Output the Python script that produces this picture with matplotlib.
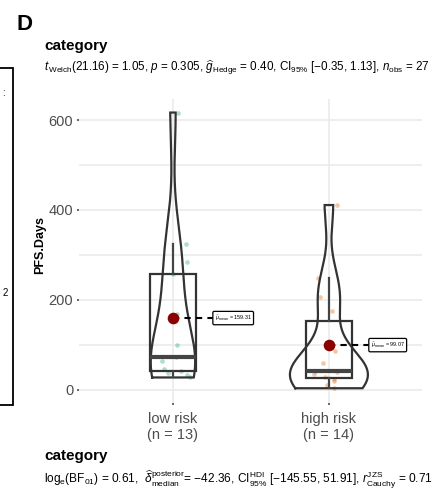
import numpy as np
import matplotlib
matplotlib.use("Agg")
import matplotlib.pyplot as plt
from matplotlib.patches import Rectangle

plt.rcParams['font.family'] = ['Liberation Sans', 'DejaVu Sans']
plt.rcParams['mathtext.fontset'] = 'custom'
plt.rcParams['mathtext.rm'] = 'Liberation Sans'
plt.rcParams['mathtext.it'] = 'Liberation Sans:italic'
plt.rcParams['mathtext.bf'] = 'Liberation Sans:bold'

# ---- data ----
categories = ["low risk", "high risk"]
low_risk = [27, 32, 36, 42, 45, 64, 72, 100, 169, 257, 285, 325, 617]
high_risk = [3, 10, 20, 24, 27, 35, 40, 42, 60, 85, 175, 206, 249, 411]
low_jitter = [0.11, 0.09, -0.03, 0.05, -0.06, -0.07, 0.02, 0.024, 0.026, 0.0, 0.088, 0.083, 0.03]
high_jitter = [0.03, -0.015, 0.03, 0.03, -0.025, -0.095, 0.05, -0.09, -0.04, 0.04, 0.02, -0.06, -0.07, 0.05]
y_ticks = [0, 200, 400, 600]
point_colors = ["#1B9E77", "#D95F02"]
title = "category"
subtitle = (r"$t_{\,\mathrm{Welch}}$(21.16) = 1.05, $p$ = 0.305, "
            r"$\widehat{g}_{\mathrm{Hedge}}$ = 0.40, CI$_{95\%}$ [−0.35, 1.13], "
            r"$n_{\mathrm{obs}}$ = 27")
caption = (r"log$_{\mathrm{e}}$(BF$_{01}$) = 0.61,  "
           r"$\widehat{\delta}_{\mathrm{median}}^{\mathrm{posterior}}$= −42.36, "
           r"CI$_{95\%}^{\mathrm{HDI}}$ [−145.55, 51.91], "
           r"$r_{\mathrm{Cauchy}}^{\mathrm{JZS}}$ = 0.71")
ylabel = "PFS.Days"

groups = [np.array(low_risk, float), np.array(high_risk, float)]
jitters = [low_jitter, high_jitter]

fig = plt.figure(figsize=(4.41, 4.92), dpi=100)
ax = fig.add_axes([0.180, 0.180, 0.778, 0.6194])

def kde(v, grid):
    n = len(v)
    sd = v.std(ddof=1)
    q1, q3 = np.percentile(v, [25, 75])
    bw = 0.9 * min(sd, (q3 - q1) / 1.34) * n ** -0.2
    z = (grid[:, None] - v[None, :]) / bw
    return np.exp(-0.5 * z ** 2).sum(1) / (n * bw * np.sqrt(2 * np.pi))

grids, dens = [], []
for v in groups:
    g = np.linspace(v.min(), v.max(), 512)
    grids.append(g)
    dens.append(kde(v, g))
dmax = max(d.max() for d in dens)

edge = "#333333"
for i, v in enumerate(groups):
    x0 = i + 1
    # violin
    w = 0.25 * dens[i] / dmax
    g = grids[i]
    xs = np.concatenate([x0 - w, (x0 + w)[::-1], [x0 - w[0]]])
    ys = np.concatenate([g, g[::-1], [g[0]]])
    ax.plot(xs, ys, color=edge, lw=1.6, zorder=3, solid_joinstyle='miter')
    # boxplot
    q1, med, q3 = np.percentile(v, [25, 50, 75])
    iqr = q3 - q1
    lo = v[v >= q1 - 1.5 * iqr].min()
    hi = v[v <= q3 + 1.5 * iqr].max()
    ax.add_patch(Rectangle((x0 - 0.15, q1), 0.3, q3 - q1, fill=False,
                           ec=edge, lw=1.6, zorder=3))
    ax.plot([x0 - 0.15, x0 + 0.15], [med, med], color="#444444", lw=3, zorder=3,
            solid_capstyle='butt')
    ax.plot([x0, x0], [q3, hi], color="#444444", lw=1.6, zorder=3)
    ax.plot([x0, x0], [lo, q1], color="#444444", lw=1.6, zorder=3)
    # points
    ax.scatter(x0 + np.array(jitters[i]), v, s=11, color=point_colors[i],
               alpha=0.35, lw=0, zorder=2)
    # mean
    m = v.mean()
    ax.scatter([x0], [m], s=70, color="#8B0000", zorder=5, lw=0)
    ax.plot([x0, x0 + 0.265], [m, m], color="black", lw=1.5, ls=(0, (3, 2.5)), zorder=4)
    ax.text(x0 + 0.268, m, r"$\widehat{\mu}_{\mathrm{mean}}$ = " + f"{m:.2f}",
            fontsize=3.9, va='center', ha='left', zorder=6,
            bbox=dict(boxstyle="round,pad=0.35,rounding_size=0.25", fc="white",
                      ec="black", lw=0.9))

ax.set_xlim(0.4, 2.6)
ax.set_ylim(-30.85, 647.85)
ax.set_xticks([1, 2])
ax.set_xticklabels([f"{c}\n(n = {len(v)})" for c, v in zip(categories, groups)],
                   fontsize=10.5, color="#4d4d4d", linespacing=1.15)
ax.set_yticks(y_ticks)
ax.set_yticklabels([str(t) for t in y_ticks], fontsize=10.5, color="#4d4d4d")
ax.set_yticks([100, 300, 500], minor=True)
ax.tick_params(axis='both', which='major', length=1.5, width=1.2, color="#4d4d4d", pad=3)
ax.tick_params(axis='y', which='minor', length=0)
ax.tick_params(axis='x', pad=5)
ax.grid(True, which='both', color="#ebebeb", lw=1.2)
ax.set_axisbelow(True)
for s in ax.spines.values():
    s.set_visible(False)
ax.set_ylabel(ylabel, fontsize=9, fontweight='bold')
ax.yaxis.set_label_coords(-0.097, 0.52)

fig.text(0.038, 0.951, "D", fontsize=16, fontweight='bold', va='center', ha='left')
fig.text(0.0998, 0.9065, title, fontsize=11, fontweight='bold', va='center', ha='left')
fig.text(0.0998, 0.862, subtitle, fontsize=8.35, va='center', ha='left')
fig.text(0.0998, 0.0732, title, fontsize=11, fontweight='bold', va='center', ha='left')
fig.text(0.0998, 0.0244, caption, fontsize=8.6, va='center', ha='left')

# partial neighbouring panel at left edge
fig.patches.append(Rectangle((-0.01, 1 - 405 / 492), 0.04, (405 - 68) / 492,
                             transform=fig.transFigure, fill=False, ec="black", lw=1.3))
fig.text(0.006, 1 - 293 / 492, "2", fontsize=7, va='center', ha='left')
fig.text(0.004, 1 - 93 / 492, ":", fontsize=7, va='center', ha='left')

fig.savefig("out.png", dpi=100)
